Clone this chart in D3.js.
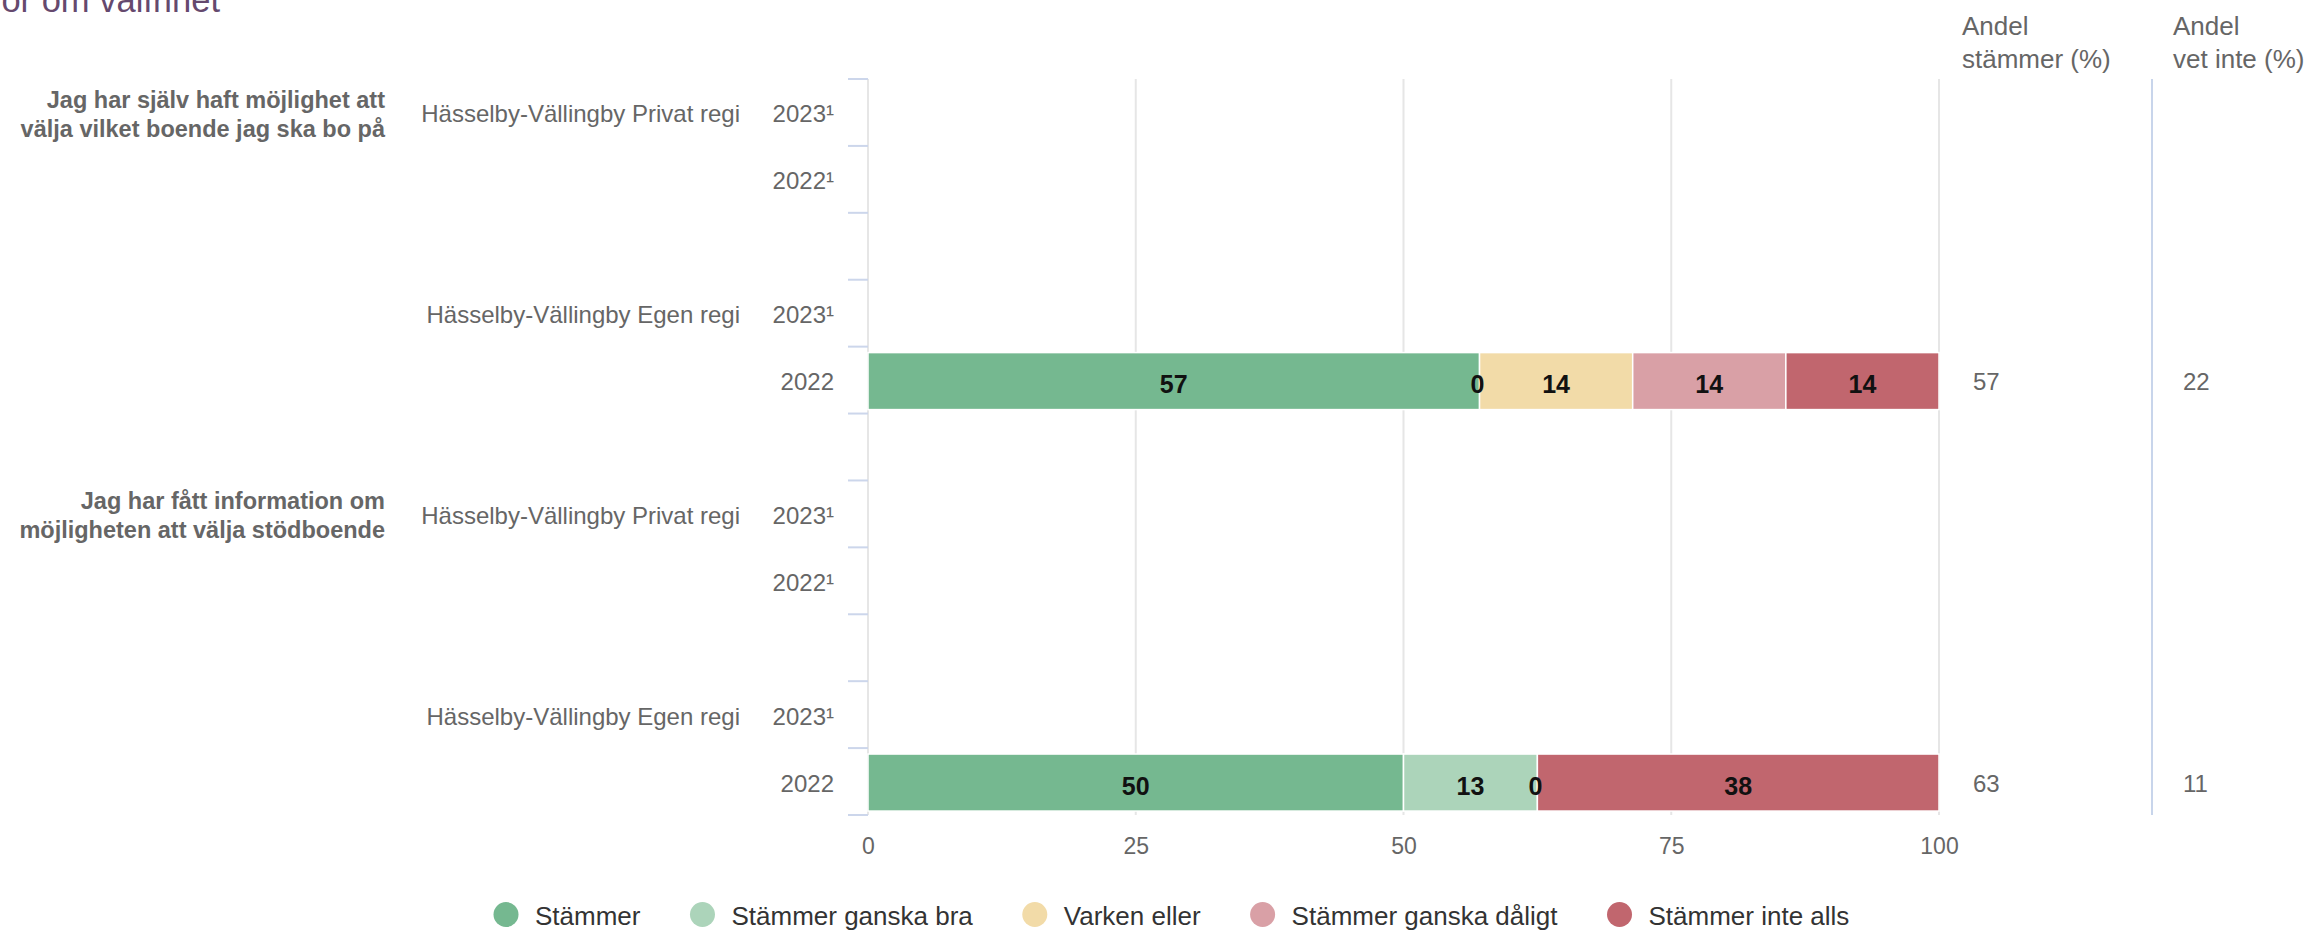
<!DOCTYPE html>
<html>
<head>
<meta charset="utf-8">
<script src="https://cdn.jsdelivr.net/npm/d3@7"></script>
<style>
  html, body { margin: 0; padding: 0; background: #fff; overflow: hidden; }
  svg { display: block; font-family: "Liberation Sans", Arial, Helvetica, sans-serif; }
</style>
</head>
<body>
<svg id="chart" width="2310" height="930"></svg>
<script>
// ---------- DATA ----------
const title = "Frågor om valfrihet";
const rowIds = ["r0","r1","r2","r3","r4","r5","r6","r7","r8","r9","r10"];
const rowQuestions = [
  ["Jag har själv haft möjlighet att", "välja vilket boende jag ska bo på"], null, null, null, null, null,
  ["Jag har fått information om", "möjligheten att välja stödboende"], null, null, null, null
];
const rowUnits = ["Hässelby-Vällingby Privat regi", "", "", "Hässelby-Vällingby Egen regi", "", "",
                  "Hässelby-Vällingby Privat regi", "", "", "Hässelby-Vällingby Egen regi", ""];
const rowYears = ["2023¹", "2022¹", "", "2023¹", "2022", "", "2023¹", "2022¹", "", "2023¹", "2022"];

const seriesNames = ["Stämmer", "Stämmer ganska bra", "Varken eller", "Stämmer ganska dåligt", "Stämmer inte alls"];
const seriesColors = ["#75b890", "#acd4ba", "#f2dba8", "#d9a0a6", "#c1666e"];
const stammer        = [null, null, null, null, 57.1, null, null, null, null, null, 50];
const stammerGanska  = [null, null, null, null, 0,    null, null, null, null, null, 12.5];
const varkenEller    = [null, null, null, null, 14.3, null, null, null, null, null, 0];
const ganskaDaligt   = [null, null, null, null, 14.3, null, null, null, null, null, null];
const inteAlls       = [null, null, null, null, 14.3, null, null, null, null, null, 37.5];
const seriesValues = [stammer, stammerGanska, varkenEller, ganskaDaligt, inteAlls];

const andelStammer = ["", "", "", "", "57", "", "", "", "", "", "63"];
const andelVetInte = ["", "", "", "", "22", "", "", "", "", "", "11"];
const xTicks = [0, 25, 50, 75, 100];
const colHeaders = [["Andel", "stämmer (%)"], ["Andel", "vet inte (%)"]];

// ---------- CHART ----------
const svg = d3.select("#chart");
const x = d3.scaleLinear().domain([0, 100]).range([868, 1939]);
const y = d3.scaleBand().domain(rowIds).range([79, 815]).paddingInner(0).paddingOuter(0);
const bw = y.bandwidth();
const barH = 57;

// title (cut at the top)
svg.append("text").attr("x", 220).attr("y", 12).attr("text-anchor", "end")
  .attr("font-size", 34.5).attr("fill", "#65496e").text(title);

// gridlines
const gridG = svg.append("g");
gridG.selectAll("line").data(xTicks).join("line")
  .attr("x1", d => x(d)).attr("x2", d => x(d))
  .attr("y1", y.range()[0]).attr("y2", y.range()[1])
  .attr("stroke", "#e6e6e6").attr("stroke-width", 2);

// y tick marks at band boundaries
const boundaries = rowIds.map(id => y(id)).concat([y.range()[1]]);
svg.append("g").selectAll("line").data(boundaries).join("line")
  .attr("x1", 848).attr("x2", 868)
  .attr("y1", d => d).attr("y2", d => d)
  .attr("stroke", "#ccd6eb").attr("stroke-width", 2);

// x axis labels
const xAxis = d3.axisBottom(x).tickValues(xTicks).tickSize(0).tickPadding(0);
const xAxisG = svg.append("g").attr("transform", "translate(0,836)").call(xAxis);
xAxisG.select(".domain").remove();
xAxisG.selectAll("text").attr("font-size", 23).attr("fill", "#666").attr("font-family", null)
  .attr("dy", null).attr("y", 18);

// row labels
const rc = id => y(id) + bw / 2;
const labG = svg.append("g").attr("fill", "#666");
rowIds.forEach((id, i) => {
  if (rowYears[i]) labG.append("text").attr("x", 834).attr("y", rc(id) + 10)
    .attr("text-anchor", "end").attr("font-size", 24).text(rowYears[i]);
  if (rowUnits[i]) labG.append("text").attr("x", 740).attr("y", rc(id) + 10)
    .attr("text-anchor", "end").attr("font-size", 24).text(rowUnits[i]);
  if (rowQuestions[i]) {
    const t = labG.append("text").attr("text-anchor", "end").attr("font-size", 23.5).attr("font-weight", "bold");
    rowQuestions[i].forEach((line, k) => {
      t.append("tspan").attr("x", 385).attr("y", rc(id) + 10 - 14.5 + k * 29).text(line);
    });
  }
});

// stacked bars
const stackRows = rowIds.map((id, i) => {
  let cum = 0;
  return seriesValues.map((s, k) => {
    const v = s[i];
    const seg = { id, k, v, x0: cum, x1: cum + (v || 0) };
    cum += (v || 0);
    return seg;
  });
});
const segs = stackRows.flat().filter(d => d.v !== null);
const barG = svg.append("g");
barG.selectAll("rect").data(segs.filter(d => d.v > 0)).join("rect")
  .attr("x", d => x(d.x0)).attr("width", d => x(d.x1) - x(d.x0))
  .attr("y", d => rc(d.id) + 1 - barH / 2).attr("height", barH)
  .attr("fill", d => seriesColors[d.k]).attr("stroke", "#fff").attr("stroke-width", 1.5);
barG.selectAll("text").data(segs).join("text")
  .attr("x", d => x((d.x0 + d.x1) / 2) - (d.v === 0 ? 2 : 0))
  .attr("y", d => rc(d.id) + 13)
  .attr("text-anchor", "middle").attr("font-size", 25).attr("font-weight", "bold")
  .attr("fill", "#111").text(d => Math.round(d.v));

// right columns
const colX = [1962, 2173];
const valX = [1973, 2183];
colHeaders.forEach((h, c) => {
  const t = svg.append("text").attr("font-size", 26).attr("fill", "#666");
  h.forEach((line, k) => t.append("tspan").attr("x", colX[c]).attr("y", 35 + k * 33).text(line));
});
[andelStammer, andelVetInte].forEach((arr, c) => {
  svg.append("g").selectAll("text").data(rowIds.filter((id, i) => arr[i])).join("text")
    .attr("x", valX[c]).attr("y", id => rc(id) + 10)
    .attr("font-size", 24).attr("fill", "#666")
    .text(id => arr[rowIds.indexOf(id)]);
});
// second-column axis line
svg.append("line").attr("x1", 2152).attr("x2", 2152)
  .attr("y1", y.range()[0]).attr("y2", y.range()[1])
  .attr("stroke", "#c8d5eb").attr("stroke-width", 2);

// legend
const legG = svg.append("g");
let lx = 506;
seriesNames.forEach((name, k) => {
  legG.append("circle").attr("cx", lx).attr("cy", 914.5).attr("r", 12.5).attr("fill", seriesColors[k]);
  const t = legG.append("text").attr("x", lx + 29).attr("y", 924.5)
    .attr("font-size", 26).attr("fill", "#333").text(name);
  lx = lx + 29 + t.node().getComputedTextLength() + 62;
});
</script>
</body>
</html>
